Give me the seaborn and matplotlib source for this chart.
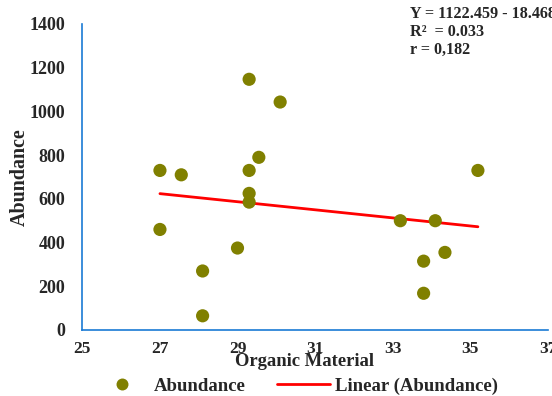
import matplotlib
matplotlib.use("Agg")
import matplotlib.pyplot as plt
import seaborn as sns
import numpy as np
import pandas as pd
from matplotlib.lines import Line2D

# ---- data ----
organic = [27.0, 27.0, 27.55, 28.1, 28.1, 29.0, 29.3, 29.3, 29.3, 29.3,
           29.55, 30.1, 33.2, 33.8, 33.8, 34.1, 34.35, 35.2]
abundance = [730, 460, 710, 270, 65, 375, 1147, 730, 625, 585,
             790, 1043, 500, 315, 168, 500, 355, 730]
intercept = 1122.459
slope = -18.468
x_ticks = [25, 27, 29, 31, 33, 35, 37]
y_ticks = [0, 200, 400, 600, 800, 1000, 1200, 1400]
eq_lines = ["Y = 1122.459 - 18.468x", "R\u00b2  = 0.033", "r = 0,182"]

sns.set_style("white")
plt.rcParams['font.family'] = ['Liberation Serif', 'DejaVu Serif']
plt.rcParams['font.weight'] = 'bold'

POINT = "#808000"
LINE = "#ff0000"
AXIS = "#1a7ad4"

fig = plt.figure(figsize=(5.52, 3.96), dpi=100)
L, R, T, B = 82.4, 547.7, 24.0, 330.0
ax = fig.add_axes([L/552, 1-B/396, (R-L)/552, (B-T)/396])

df = pd.DataFrame({"Organic Material": organic, "Abundance": abundance})
sns.scatterplot(data=df, x="Organic Material", y="Abundance", ax=ax,
                color=POINT, s=90, edgecolor="none", zorder=3, legend=False)

xl = np.array([min(organic), max(organic)])
fit = pd.DataFrame({"x": xl, "y": intercept + slope * xl})
sns.lineplot(data=fit, x="x", y="y", ax=ax, color=LINE, lw=2.0, zorder=2)

ax.set_xlim(25, 37)
ax.set_ylim(0, 1400)
ax.set_xticks(x_ticks)
ax.set_yticks(y_ticks)
ax.set_xticklabels([str(v) for v in x_ticks], fontsize=12.5, fontweight='bold')
ax.set_yticklabels([str(v) for v in y_ticks], fontsize=13, fontweight='bold')
for s in ["top", "right"]:
    ax.spines[s].set_visible(False)
for s in ["left", "bottom"]:
    ax.spines[s].set_color(AXIS)
    ax.spines[s].set_linewidth(1.2)
ax.tick_params(axis='both', direction='out', length=4, width=1.2, color=AXIS)
ax.tick_params(axis='x', pad=4)
ax.tick_params(axis='y', pad=8.5)

ax.set_xlabel("Organic Material", fontsize=13.4, fontweight='bold')
ax.xaxis.set_label_coords((304-L)/(R-L), -(361-B)/(B-T))
ax.xaxis.label.set_va('center')
ax.set_ylabel("Abundance", fontsize=14.4, fontweight='bold')
ax.yaxis.set_label_coords(-(L-20)/(R-L), 0.5)
ax.yaxis.label.set_va('center')

for i, t in enumerate(eq_lines):
    fig.text(410/552, 1-(14+18*i)/396, t, fontsize=11.6, fontweight='bold',
             ha='left', va='center')

handles = [Line2D([], [], marker='o', ls='none', color=POINT, markersize=8.6,
                  markeredgewidth=0),
           Line2D([], [], color=LINE, lw=2.0)]
leg = fig.legend(handles, ["Abundance", "Linear (Abundance)"], ncol=2,
                 loc='center', bbox_to_anchor=(297/552, 1-386/396), frameon=False,
                 prop={'size': 13.5, 'weight': 'bold'}, handlelength=2.8,
                 columnspacing=1.7, handletextpad=0.3, borderpad=0)

fig.savefig("out.png", dpi=100)
